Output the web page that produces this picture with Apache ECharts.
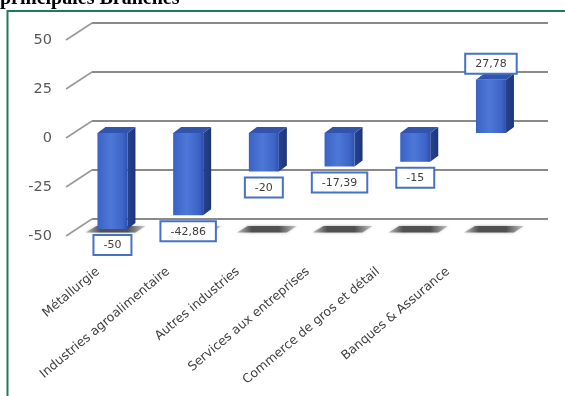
<!DOCTYPE html>
<html><head><meta charset="utf-8">
<script src="https://cdn.jsdelivr.net/npm/echarts@6/dist/echarts.min.js"></script>
<style>html,body{margin:0;padding:0;background:#fff}#chart{width:565px;height:396px}</style>
</head><body><div id="chart"></div>
<script>
// Variation by branch (%)
const categories = ['Métallurgie', 'Industries agroalimentaire', 'Autres industries', 'Services aux entreprises', 'Commerce de gros et détail', 'Banques & Assurance'];
const values = [-50, -42.86, -20, -17.39, -15, 27.78];
const valueLabels = ['-50', '-42,86', '-20', '-17,39', '-15', '27,78'];
const yTicks = [-50, -25, 0, 25, 50];

const chart = echarts.init(document.getElementById('chart'), null, { renderer: 'canvas' });

const DEPTH_X = 8, DEPTH_Y = -6;       // bar depth offset
const BACK_TO_FRONT = [-26, 17];       // wall to front edge offset
const FONT = '"DejaVu Sans", sans-serif';

const yBase = { type: 'value', min: -50, max: 50, interval: 25 };

chart.setOption({
  animation: false,
  backgroundColor: '#fff',
  grid: [
    { left: 92, width: 456, top: 23, height: 196 },   // back wall with gridlines
    { left: 66, width: 456, top: 40, height: 196 },   // front edge with value labels
    { left: 74.6, width: 454.2, top: 37, height: 192 }, // bar plane
    { left: 63, width: 420, top: 40, height: 196 }    // category labels
  ],
  xAxis: [
    { gridIndex: 0, type: 'category', data: categories, show: false },
    { gridIndex: 1, type: 'category', data: categories, show: false },
    { gridIndex: 2, type: 'category', data: categories, show: false },
    { gridIndex: 3, type: 'category', data: categories,
      axisLine: { show: false }, axisTick: { show: false },
      axisLabel: { rotate: 40, margin: 34, interval: 0, color: '#404040', fontSize: 12.5, fontFamily: FONT } }
  ],
  yAxis: [
    Object.assign({ gridIndex: 0, axisLabel: { show: false }, axisLine: { show: false }, axisTick: { show: false },
      splitLine: { show: true, lineStyle: { color: '#8a8a8a', width: 2 } } }, yBase),
    Object.assign({ gridIndex: 1, axisLine: { show: false }, axisTick: { show: false }, splitLine: { show: false },
      axisLabel: { margin: 14, color: '#595959', fontSize: 14.5, fontFamily: FONT } }, yBase),
    Object.assign({ gridIndex: 2, show: false, splitLine: { show: false } }, yBase),
    Object.assign({ gridIndex: 3, show: false, splitLine: { show: false } }, yBase)
  ],
  graphic: [
    { type: 'text', x: 0, y: 8.5, z: 10,
      style: { text: 'principales Branches', font: 'bold 20px "Liberation Serif", serif', fill: '#000', verticalAlign: 'bottom' } },
    { type: 'polyline', z: 10,
      shape: { points: [[7.5, 396], [7.5, 11], [565, 11]] },
      style: { stroke: '#1d7a60', lineWidth: 2, fill: null } }
  ],
  series: [
    {
      // slanted side-wall edges joining each gridline to its value label
      type: 'custom', xAxisIndex: 0, yAxisIndex: 0, silent: true,
      data: yTicks.map(v => [0, v]),
      renderItem: function (params, api) {
        const y = api.coord([0, api.value(1)])[1];
        const x0 = params.coordSys.x;
        return {
          type: 'line',
          shape: { x1: x0, y1: y, x2: x0 + BACK_TO_FRONT[0], y2: y + BACK_TO_FRONT[1] },
          style: { stroke: '#9a9a9a', lineWidth: 1.6 }
        };
      }
    },
    {
      type: 'custom', xAxisIndex: 2, yAxisIndex: 2, silent: true,
      data: values.map((v, i) => [i, v]),
      renderItem: function (params, api) {
        const i = api.value(0), v = api.value(1);
        const base = api.coord([i, 0]);
        const end = api.coord([i, v]);
        const floorY = api.coord([i, -50])[1];
        const xc = base[0];
        const bw = 30;
        const xl = xc - bw / 2, xr = xc + bw / 2;
        const yTop = Math.min(base[1], end[1]);
        const yBot = Math.max(base[1], end[1]);
        const children = [];
        // floor shadow
        children.push({
          type: 'polygon',
          shape: { points: [[xc - 27, floorY + 3.5], [xc - 16, floorY - 3], [xc + 33, floorY - 3], [xc + 23, floorY + 3.5]] },
          style: {
            fill: new echarts.graphic.LinearGradient(0, 0, 1, 0, [
              { offset: 0, color: 'rgba(120,120,120,0.4)' },
              { offset: 0.25, color: 'rgba(75,75,75,0.95)' },
              { offset: 0.7, color: 'rgba(75,75,75,0.95)' },
              { offset: 1, color: 'rgba(130,130,130,0.35)' }
            ]),
            shadowBlur: 3, shadowColor: 'rgba(0,0,0,0.35)'
          }
        });
        // side face
        children.push({
          type: 'polygon',
          shape: { points: [[xr, yTop], [xr + DEPTH_X, yTop + DEPTH_Y], [xr + DEPTH_X, yBot + DEPTH_Y], [xr, yBot]] },
          style: {
            fill: new echarts.graphic.LinearGradient(0, 0, 1, 0, [
              { offset: 0, color: '#27438f' },
              { offset: 1, color: '#1e3677' }
            ])
          }
        });
        // top face
        children.push({
          type: 'polygon',
          shape: { points: [[xl, yTop], [xl + DEPTH_X, yTop + DEPTH_Y], [xr + DEPTH_X, yTop + DEPTH_Y], [xr, yTop]] },
          style: { fill: '#3154ad' }
        });
        // front face
        children.push({
          type: 'rect',
          shape: { x: xl, y: yTop, width: bw, height: yBot - yTop },
          style: {
            fill: new echarts.graphic.LinearGradient(0, 0, 1, 0, [
              { offset: 0, color: '#3a62c4' },
              { offset: 0.45, color: '#4d78d8' },
              { offset: 0.85, color: '#3d64c6' },
              { offset: 1, color: '#2c50ae' }
            ])
          }
        });
        // value label box
        const neg = v < 0;
        children.push({
          type: 'text',
          style: {
            text: valueLabels[params.dataIndex],
            x: xc, y: neg ? yBot + 7 : yTop + DEPTH_Y - 1,
            align: 'center', verticalAlign: neg ? 'top' : 'bottom',
            font: '11px ' + FONT, fill: '#404040',
            backgroundColor: '#fff', borderColor: '#4472c4', borderWidth: 2,
            padding: [4, 9, 3, 9]
          }
        });
        return { type: 'group', children: children };
      }
    }
  ]
});
</script></body></html>
